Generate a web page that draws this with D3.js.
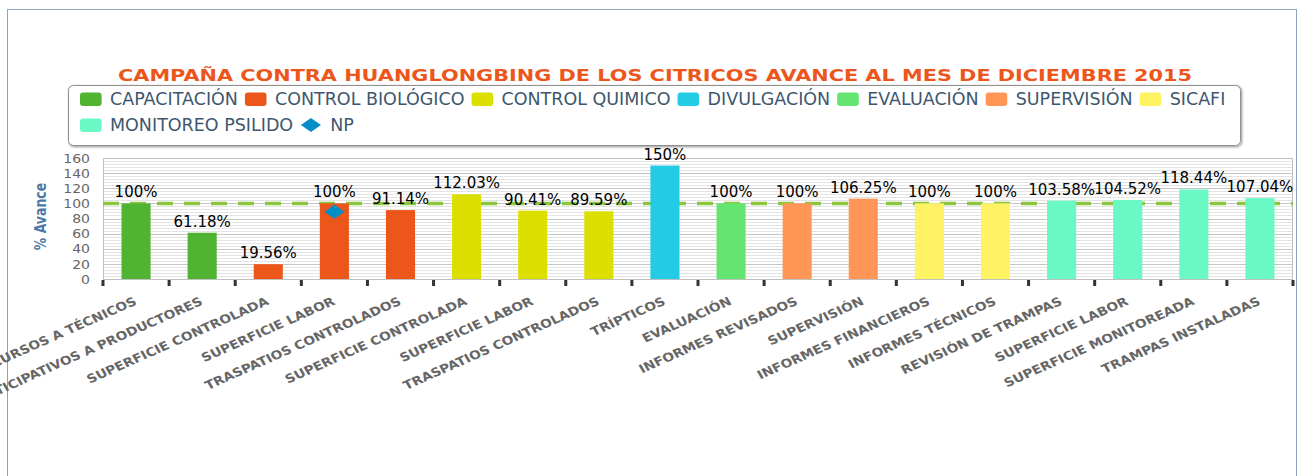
<!DOCTYPE html>
<html><head><meta charset="utf-8">
<script src="https://cdn.jsdelivr.net/npm/d3@7"></script>
<style>html,body{margin:0;padding:0;background:#fff;overflow:hidden}</style>
</head><body>
<svg id="chart" width="1300" height="476"></svg>
<script>
// ---------- data ----------
const categories = [
  "CURSOS A TÉCNICOS", "TALLERES PARTICIPATIVOS A PRODUCTORES", "SUPERFICIE CONTROLADA",
  "SUPERFICIE LABOR", "TRASPATIOS CONTROLADOS", "SUPERFICIE CONTROLADA",
  "SUPERFICIE LABOR", "TRASPATIOS CONTROLADOS", "TRÍPTICOS",
  "EVALUACIÓN", "INFORMES REVISADOS", "SUPERVISIÓN",
  "INFORMES FINANCIEROS", "INFORMES TÉCNICOS", "REVISIÓN DE TRAMPAS",
  "SUPERFICIE LABOR", "SUPERFICIE MONITOREADA", "TRAMPAS INSTALADAS"
];
const categorySeries = [0,0,1,1,1,2,2,2,3,4,5,5,6,6,7,7,7,7];
const values = [100, 61.18, 19.56, 100, 91.14, 112.03, 90.41, 89.59, 150, 100, 100, 106.25, 100, 100, 103.58, 104.52, 118.44, 107.04];
const valueLabels = ["100%","61.18%","19.56%","100%","91.14%","112.03%","90.41%","89.59%","150%","100%","100%","106.25%","100%","100%","103.58%","104.52%","118.44%","107.04%"];
const seriesNames = ["CAPACITACIÓN","CONTROL BIOLÓGICO","CONTROL QUIMICO","DIVULGACIÓN","EVALUACIÓN","SUPERVISIÓN","SICAFI","MONITOREO PSILIDO"];
const seriesColors = ["#50B432","#ED561B","#DDDF00","#24CBE5","#64E572","#FF9655","#FFF263","#6AF9C4"];
const npName = "NP";
const npColor = "#058DC7";
const npValues = [null,null,null,89,null,null,null,null,null,null,null,null,null,null,null,null,null,null];
const goalValue = 100;
const yTicks = [0,20,40,60,80,100,120,140,160];
const minorStep = 4;
const titleText = "CAMPAÑA CONTRA HUANGLONGBING DE LOS CITRICOS AVANCE AL MES DE DICIEMBRE 2015";
const yTitleText = "% Avance";

// ---------- layout ----------
const FONT = "'DejaVu Sans', Verdana, sans-serif";
const plot = {left:103, right:1293, top:158, bottom:279};
const svg = d3.select("#chart");

// frame
svg.append("rect").attr("x",7.5).attr("y",9.5).attr("width",1289).attr("height",480)
  .attr("fill","#fff").attr("stroke","#8aa3bf").attr("stroke-width",1);

// title
svg.append("text").text(titleText)
  .attr("transform","translate(655,81) scale(1.285,1)")
  .attr("text-anchor","middle").attr("font-family",FONT).attr("font-weight","bold")
  .attr("font-size",16.2).attr("fill","#ED561B");

// legend box
const lg = svg.append("g");
const lbox = {x:68.5, y:85.5, w:1172, h:60};
[3,2,1].forEach((o,i)=>{
  lg.append("rect").attr("x",lbox.x+1).attr("y",lbox.y+1).attr("width",lbox.w).attr("height",lbox.h)
    .attr("rx",5).attr("fill","none").attr("stroke","#000").attr("stroke-opacity",[0.05,0.1,0.15][i])
    .attr("stroke-width",o*2-1);
});
lg.append("rect").attr("x",lbox.x).attr("y",lbox.y).attr("width",lbox.w).attr("height",lbox.h)
  .attr("rx",5).attr("fill","#fff").attr("stroke","#909090").attr("stroke-width",1);

const legendItems = seriesNames.map((n,i)=>({name:n,color:seriesColors[i],type:"rect"}));
legendItems.push({name:npName,color:npColor,type:"diamond"});
const rows = [[0,1,2,3,4,5,6],[7,8]];
const rowBase = [105, 131];
rows.forEach((row,ri)=>{
  let cx = 80;
  row.forEach(k=>{
    const it = legendItems[k];
    const g = lg.append("g");
    if(it.type==="rect"){
      g.append("rect").attr("x",cx).attr("y",rowBase[ri]-12.5).attr("width",21.6).attr("height",13.5)
        .attr("rx",3).attr("fill",it.color);
    } else {
      g.append("path").attr("d",d3.symbol().type(d3.symbolSquare).size(100)())
        .attr("transform",`translate(${cx+10.8},${rowBase[ri]-6}) scale(1.42,1) rotate(45)`)
        .attr("fill",it.color);
    }
    const t = g.append("text").text(it.name).attr("x",cx+30).attr("y",rowBase[ri])
      .attr("font-family",FONT).attr("font-size",17.5).attr("fill","#3E576F");
    cx += 30 + t.node().getComputedTextLength() + 7;
  });
});

// scales
const xOuter = d3.scaleBand().domain(d3.range(categories.length)).range([plot.left,plot.right]);
const xBar = d3.scaleBand().domain(d3.range(categories.length)).range([plot.left,plot.right])
  .paddingInner(0.56).paddingOuter(0.28);
const y = d3.scaleLinear().domain([0,160]).range([plot.bottom,plot.top]);

// plot background & grid
const pg = svg.append("g");
pg.append("rect").attr("x",plot.left).attr("y",plot.top).attr("width",plot.right-plot.left)
  .attr("height",plot.bottom-plot.top).attr("fill","#fff");
const minorVals = d3.range(0,160+0.001,minorStep).filter(v=>v%20!==0);
pg.selectAll(".minor").data(minorVals).join("line")
  .attr("x1",plot.left).attr("x2",plot.right).attr("y1",d=>Math.round(y(d))+0.5).attr("y2",d=>Math.round(y(d))+0.5)
  .attr("stroke","#e4e4e4").attr("stroke-width",1);
pg.selectAll(".major").data(yTicks).join("line")
  .attr("x1",plot.left).attr("x2",plot.right).attr("y1",d=>Math.round(y(d))+0.5).attr("y2",d=>Math.round(y(d))+0.5)
  .attr("stroke","#c6c6c6").attr("stroke-width",1);
pg.append("rect").attr("x",plot.left+0.5).attr("y",plot.top+0.5).attr("width",plot.right-plot.left-1)
  .attr("height",plot.bottom-plot.top).attr("fill","none").attr("stroke","#c0c0c0");

// goal line
svg.append("line").attr("x1",plot.left).attr("x2",plot.right)
  .attr("y1",y(goalValue)).attr("y2",y(goalValue))
  .attr("stroke","#8CC63F").attr("stroke-width",3.5).attr("stroke-dasharray","16,11");

// bars
svg.append("g").selectAll("rect").data(values).join("rect")
  .attr("x",(d,i)=>xBar(i)).attr("width",xBar.bandwidth())
  .attr("y",d=>y(d)).attr("height",d=>y(0)-y(d))
  .attr("fill",(d,i)=>seriesColors[categorySeries[i]]);

// NP markers
svg.append("g").selectAll("path").data(npValues.map((v,i)=>({v,i})).filter(d=>d.v!=null)).join("path")
  .attr("d",d3.symbol().type(d3.symbolSquare).size(100)())
  .attr("transform",d=>`translate(${xOuter(d.i)+xOuter.bandwidth()/2},${y(d.v)}) scale(1.42,1) rotate(45)`)
  .attr("fill",npColor);

// data labels
svg.append("g").selectAll("text").data(values).join("text")
  .attr("x",(d,i)=>xBar(i)+xBar.bandwidth()/2).attr("y",d=>y(d)-6)
  .attr("text-anchor","middle").attr("font-family",FONT).attr("font-size",15).attr("fill","#000")
  .text((d,i)=>valueLabels[i]);

// y axis
const yAxis = svg.append("g").attr("transform",`translate(${plot.left},0)`)
  .call(d3.axisLeft(y).tickValues(yTicks).tickSize(0).tickFormat(d3.format("d")));
yAxis.select(".domain").remove();
yAxis.selectAll("text").attr("x",0).attr("dy","0.36em")
  .attr("transform","translate(-13,0) scale(1.22,1)")
  .attr("font-family",FONT).attr("font-size",11.5).attr("fill","#666");

svg.append("text").text(yTitleText)
  .attr("transform",`translate(46,${(plot.top+plot.bottom)/2-2}) rotate(-90) scale(1,1.3)`)
  .attr("text-anchor","middle").attr("font-family",FONT).attr("font-weight","bold")
  .attr("font-size",12.5).attr("fill","#4d79a8");

// x axis tick marks at category boundaries
const bounds = d3.range(categories.length+1).map(i=> i<categories.length ? xOuter(i) : plot.right);
svg.append("g").selectAll("line").data(bounds).join("line")
  .attr("x1",d=>d).attr("x2",d=>d).attr("y1",plot.bottom+1).attr("y2",plot.bottom+7)
  .attr("stroke","#333").attr("stroke-width",3);

// x axis labels
const xAxis = svg.append("g").attr("transform",`translate(0,${plot.bottom})`)
  .call(d3.axisBottom(xOuter).tickSize(0).tickFormat(i=>categories[i]));
xAxis.select(".domain").remove();
xAxis.selectAll(".tick").each(function(i){
  d3.select(this).select("text")
    .attr("x",0).attr("y",0).attr("dy",0)
    .attr("transform","translate(1.5,25) scale(1.15,1) rotate(-27)")
    .attr("text-anchor","end").attr("font-family",FONT).attr("font-weight","bold")
    .attr("font-size",12).attr("fill","#666");
});
</script>
</body></html>
